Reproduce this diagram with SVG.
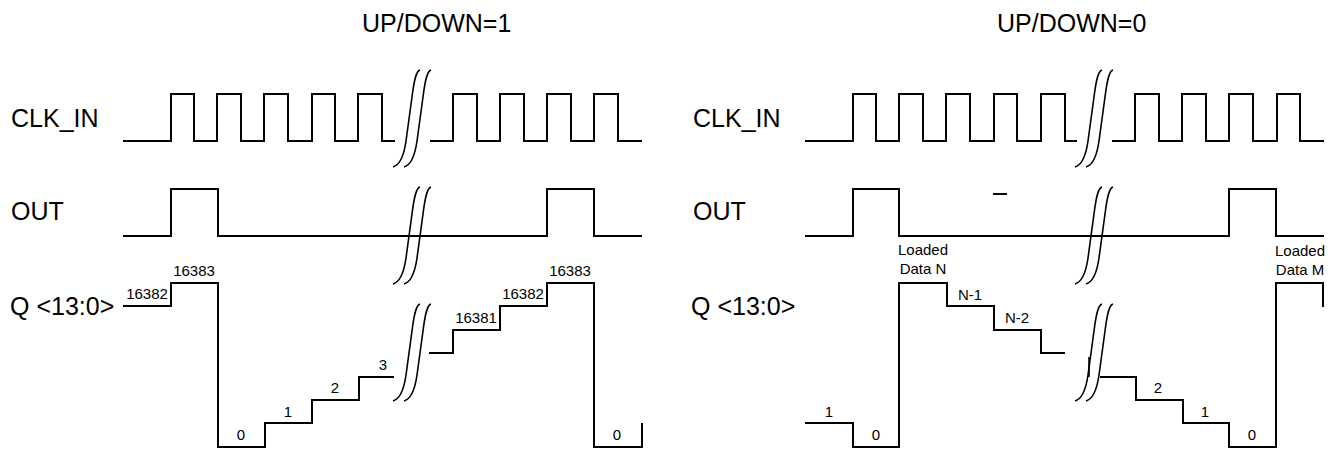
<svg xmlns="http://www.w3.org/2000/svg" width="1338" height="452" viewBox="0 0 1338 452">
<style>
.w{fill:none;stroke:#000;stroke-width:2;stroke-linejoin:miter}
.b{fill:none;stroke:#000;stroke-width:1.6}
.t{font-family:"Liberation Sans",Arial,sans-serif;fill:#000}
.big{font-size:25px}
.ttl{font-size:25px}
.sm{font-size:15px;text-anchor:middle}
</style>
<defs>
<g id="brk">
<path class="b" d="M0,0 C7,-2 11,-12 13,-26 L19,-70 C21,-86 23,-96 27,-97"/>
<path class="b" d="M11,0 C18,-2 22,-12 24,-26 L30,-70 C32,-86 34,-96 38,-97"/>
</g>
</defs>
<rect width="1338" height="452" fill="#fff"/>
<g id="titles" class="t ttl">
<text x="362" y="32">UP/DOWN=1</text>
<text x="997" y="32">UP/DOWN=0</text>
</g>
<g id="left-labels" class="t big">
<text x="11" y="127">CLK_IN</text>
<text x="11" y="220">OUT</text>
<text x="10" y="315">Q &lt;13:0&gt;</text>
</g>
<g id="right-labels" class="t big">
<text x="693" y="127">CLK_IN</text>
<text x="693" y="220">OUT</text>
<text x="691" y="315">Q &lt;13:0&gt;</text>
</g>
<g id="left-clk">
<path class="w" d="M123,141 H171 V94 H194 V141 H217 V94 H241 V141 H264 V94 H288 V141 H312 V94 H335 V141 H358 V94 H382 V141 H395"/>
<path class="w" d="M430,141 H453 V94 H477 V141 H500 V94 H524 V141 H547 V94 H571 V141 H594 V94 H618 V141 H642"/>
</g>
<g id="left-out">
<path class="w" d="M123,236 H171 V189 H218 V236 H547 V189 H594 V236 H642"/>
</g>
<g id="left-q">
<path class="w" d="M123,306 H171 V283 H218 V447 H265 V423 H312 V400 H359 V377 H394"/>
<path class="w" d="M429,353 H453 V330 H500 V306 H547 V283 H594 V447 H642 V423"/>
</g>
<g id="left-q-values" class="t sm">
<text x="147" y="299">16382</text>
<text x="194" y="276">16383</text>
<text x="241" y="440">0</text>
<text x="288" y="417">1</text>
<text x="335" y="393">2</text>
<text x="383" y="370">3</text>
<text x="476" y="323">16381</text>
<text x="523" y="299">16382</text>
<text x="570" y="276">16383</text>
<text x="617" y="440">0</text>
</g>
<g id="right-clk">
<path class="w" d="M805,141 H853 V94 H876 V141 H899 V94 H923 V141 H946 V94 H970 V141 H994 V94 H1017 V141 H1041 V94 H1065 V141 H1077"/>
<path class="w" d="M1112,141 H1135 V94 H1159 V141 H1182 V94 H1206 V141 H1229 V94 H1253 V141 H1277 V94 H1300 V141 H1324"/>
</g>
<g id="right-out">
<path class="w" d="M805,236 H853 V189 H899 V236 H1229 V189 H1276 V236 H1324"/>
<path class="w" d="M993,194 H1007"/>
</g>
<g id="right-q">
<path class="w" d="M805,423 H853 V447 H899 V283 H947 V306 H994 V330 H1041 V353 H1065"/>
<path class="b" d="M1089,357 V377"/>
<path class="w" d="M1100,377 H1136 V400 H1183 V423 H1229 V447 H1276 V283 H1323 V307"/>
</g>
<g id="right-q-values" class="t sm">
<text x="829" y="417">1</text>
<text x="876" y="440">0</text>
<text x="923" y="255">Loaded</text>
<text x="923" y="274">Data N</text>
<text x="970" y="300">N-1</text>
<text x="1017" y="323">N-2</text>
<text x="1158" y="393">2</text>
<text x="1205" y="417">1</text>
<text x="1252" y="440">0</text>
<text x="1300" y="256">Loaded</text>
<text x="1300" y="275">Data M</text>
</g>
<g id="breaks">
<use href="#brk" transform="translate(393,167)"/>
<use href="#brk" transform="translate(393,284)"/>
<use href="#brk" transform="translate(393,401)"/>
<use href="#brk" transform="translate(1075,167)"/>
<use href="#brk" transform="translate(1075,284)"/>
<use href="#brk" transform="translate(1075,401)"/>
</g>
</svg>
